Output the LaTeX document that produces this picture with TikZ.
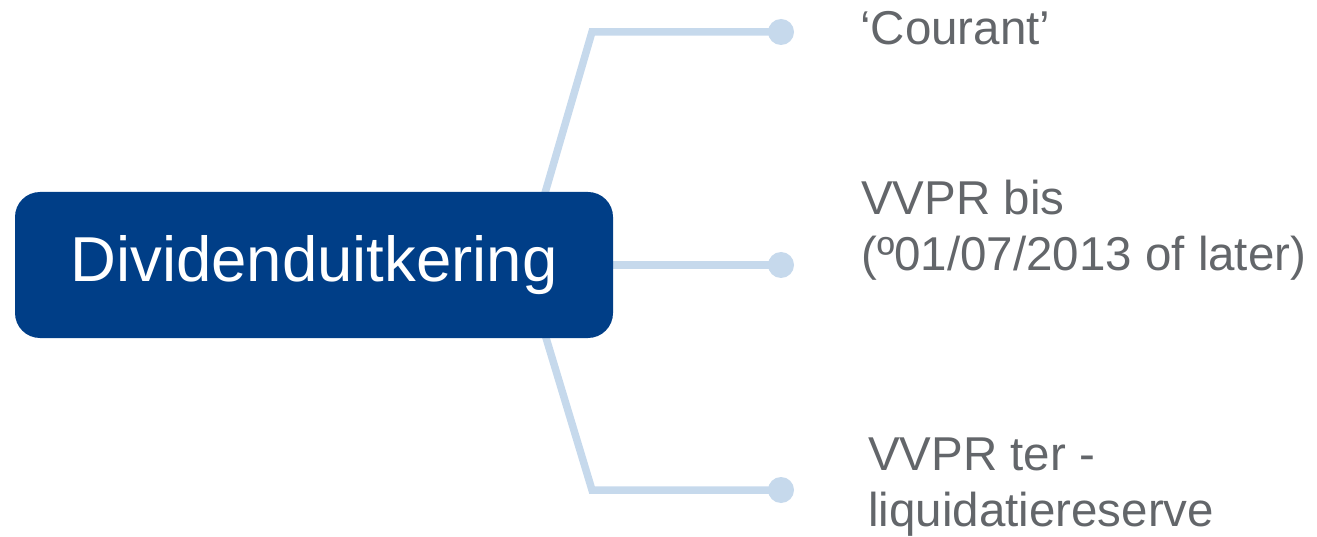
\documentclass[tikz,border=0pt]{standalone}
\usepackage{fontspec}
\setmainfont{Liberation Sans}
\usetikzlibrary{backgrounds}
\definecolor{boxblue}{HTML}{003E87}
\definecolor{linkblue}{HTML}{C6D9EC}
\definecolor{labelgrey}{HTML}{63666A}
\tikzset{
  mainbox/.style={fill=boxblue, rounded corners=25pt, minimum width=598pt, minimum height=146pt,
    inner sep=0pt, text=white, font=\fontsize{63.5}{75}\selectfont},
  enddot/.style={circle, fill=linkblue, minimum size=26pt, inner sep=0pt},
  link/.style={draw=linkblue, line width=7.5pt},
  label/.style={anchor=base west, inner sep=0pt, text=labelgrey, align=left,
    font=\fontsize{47.5}{56}\selectfont}
}
\begin{document}
\begin{tikzpicture}[x=1pt,y=-1pt]
\useasboundingbox (0,0) rectangle (1317,537);
\node[mainbox] (main) at (314,265) {Dividenduitkering};
\coordinate (hub) at (524,265);
\coordinate (ctop) at (592,32);
\coordinate (cbot) at (592,490);
\node[enddot] (d1) at (781,32) {};
\node[enddot] (d2) at (781,265) {};
\node[enddot] (d3) at (781,490) {};
\begin{scope}[on background layer]
\draw[link] (hub) -- (ctop) -- (d1.center);
\draw[link] (hub) -- (d2.center);
\draw[link] (hub) -- (cbot) -- (d3.center);
\end{scope}
\node[label] (l1) at (860,45) {‘Courant’};
\node[label] (l2) at (861,271) {VVPR bis\\(º01/07/2013 of later)};
\node[label] (l3) at (868,526) {VVPR ter -\\liquidatiereserve};
\end{tikzpicture}
\end{document}
